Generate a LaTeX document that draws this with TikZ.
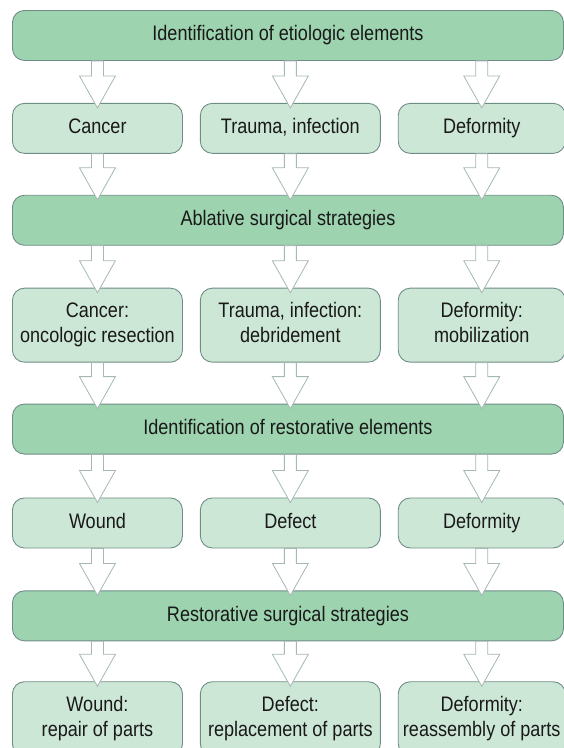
\documentclass[tikz,border=0pt]{standalone}
\usepackage{fontspec}
\setmainfont{Liberation Sans}[FakeStretch=0.86]
\usetikzlibrary{positioning, calc}

\definecolor{stagegreen}{HTML}{9DD3AF}
\definecolor{itemgreen}{HTML}{CDE7D6}
\definecolor{edgegrey}{HTML}{6F8D88}
\definecolor{arrowgrey}{HTML}{A5B8B3}

% hollow block arrow: #1 = start point, #2 = point it points at
\newcommand{\blockarrow}[2]{%
  \draw[hollow] let \p1=(#1), \p2=(#2) in
    (\x1-6pt,\y1) -- (\x1+6pt,\y1) -- (\x1+6pt,\y2+27pt) -- (\x1+18pt,\y2+27pt)
    -- (\x1,\y2-5pt) -- (\x1-18pt,\y2+27pt) -- (\x1-6pt,\y2+27pt) -- cycle;}

\begin{document}
\begin{tikzpicture}[
            node distance=42pt,
            every node/.style={draw=edgegrey, line width=0.9pt, align=center, rounded corners=12pt, font=\fontsize{21}{25}\selectfont, text=black!90, minimum height=50pt, inner sep=0pt},
            oneline/.style={text height=15pt, text depth=4.5pt},
            stage/.style={fill=stagegreen, minimum width=551pt, oneline},
            item/.style={fill=itemgreen},
            tall/.style={minimum height=74pt, text height=40pt, text depth=4.5pt},
            hollow/.style={draw=arrowgrey, fill=white, line width=0.8pt}
          ]
        \useasboundingbox (0,0) rectangle (564pt,-748pt);

        \node (etio) [stage, anchor=north west] at (12pt,-10pt) {Identification of etiologic elements};
        \node (cancer) [item, oneline, minimum width=170pt, below=42pt of etio.south west, anchor=north west] {Cancer};
        \node (trauma) [item, oneline, minimum width=180pt, right=17pt of cancer] {Trauma, infection};
        \node (deform) [item, oneline, minimum width=167pt, right=17pt of trauma] {Deformity};

        \node (ablat) [stage, below=41pt of cancer.south west, anchor=north west] {Ablative surgical strategies};
        \node (resect) [item, tall, minimum width=170pt, below=42pt of ablat.south west, anchor=north west] {Cancer:\\oncologic resection};
        \node (debride) [item, tall, minimum width=180pt, right=17pt of resect] {Trauma, infection:\\debridement};
        \node (mobil) [item, tall, minimum width=167pt, right=17pt of debride] {Deformity:\\mobilization};

        \node (restor) [stage, below=41pt of resect.south west, anchor=north west] {Identification of restorative elements};
        \node (wound) [item, oneline, minimum width=170pt, below=43pt of restor.south west, anchor=north west] {Wound};
        \node (defect) [item, oneline, minimum width=180pt, right=17pt of wound] {Defect};
        \node (deformity) [item, oneline, minimum width=167pt, right=17pt of defect] {Deformity};

        \node (restsurg) [stage, below=42pt of wound.south west, anchor=north west] {Restorative surgical strategies};
        \node (repair) [item, tall, minimum width=170pt, below=40pt of restsurg.south west, anchor=north west] {Wound:\\repair of parts};
        \node (replace) [item, tall, minimum width=180pt, right=17pt of repair] {Defect:\\replacement of parts};
        \node (reassem) [item, tall, minimum width=167pt, right=17pt of replace] {Deformity:\\reassembly of parts};

        \blockarrow{cancer |- etio.south}{cancer.north}
        \blockarrow{trauma |- etio.south}{trauma.north}
        \blockarrow{deform |- etio.south}{deform.north}
        \blockarrow{cancer.south}{cancer |- ablat.north}
        \blockarrow{trauma.south}{trauma |- ablat.north}
        \blockarrow{deform.south}{deform |- ablat.north}

        \blockarrow{resect |- ablat.south}{resect.north}
        \blockarrow{debride |- ablat.south}{debride.north}
        \blockarrow{mobil |- ablat.south}{mobil.north}
        \blockarrow{resect.south}{resect |- restor.north}
        \blockarrow{debride.south}{debride |- restor.north}
        \blockarrow{mobil.south}{mobil |- restor.north}

        \blockarrow{wound |- restor.south}{wound.north}
        \blockarrow{defect |- restor.south}{defect.north}
        \blockarrow{deformity |- restor.south}{deformity.north}
        \blockarrow{wound.south}{wound |- restsurg.north}
        \blockarrow{defect.south}{defect |- restsurg.north}
        \blockarrow{deformity.south}{deformity |- restsurg.north}

        \blockarrow{repair |- restsurg.south}{repair.north}
        \blockarrow{replace |- restsurg.south}{replace.north}
        \blockarrow{reassem |- restsurg.south}{reassem.north}

        \end{tikzpicture}
\end{document}
